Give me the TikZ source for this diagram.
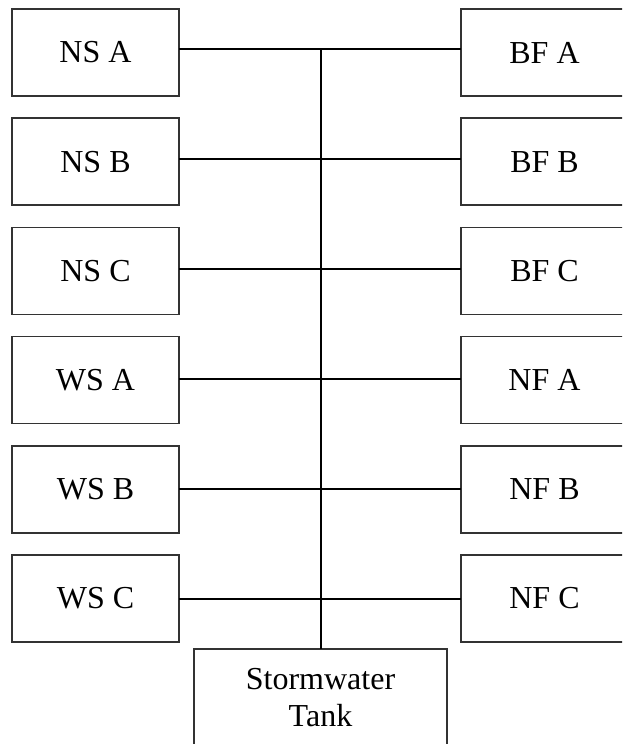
\documentclass[tikz,border=0pt]{standalone}
\usepackage{fontspec}
\setmainfont{Liberation Serif}
\begin{document}
\begin{tikzpicture}[x=1pt,y=-1pt,
  unit/.style={draw=black!80,line width=1.6pt,minimum width=167pt,minimum height=87pt,
    inner sep=0pt,outer sep=0pt,font=\fontsize{32}{37}\selectfont},
  tankbox/.style={unit,minimum width=253pt,minimum height=98pt,align=center},
  pipe/.style={draw=black,line width=2pt}]
\clip (0,0) rectangle (622,744);
\fill[white] (0,0) rectangle (622,744);
% supply units on the left, receiving units on the right
\foreach \nm/\lt/\rt [count=\i from 0] in {a/NS A/BF A,b/NS B/BF B,c/NS C/BF C,d/WS A/NF A,e/WS B/NF B,f/WS C/NF C}{
  \node[unit] (l\nm) at (95.5,52.5+109.2*\i) {\lt};
  \node[unit] (r\nm) at (544.5,52.5+109.2*\i) {\rt};
  \draw[pipe] ([yshift={-(40+0.8*\i)*1pt}]l\nm.north east) -- ([yshift={-(40+0.8*\i)*1pt}]r\nm.north west);
}
% collection tank and the main riser
\node[tankbox,anchor=north] (tank) at (320.5,649) {Stormwater\\Tank};
\draw[pipe] (tank.north) -- ([yshift=-40pt]tank.north |- la.north east);
\end{tikzpicture}
\end{document}
